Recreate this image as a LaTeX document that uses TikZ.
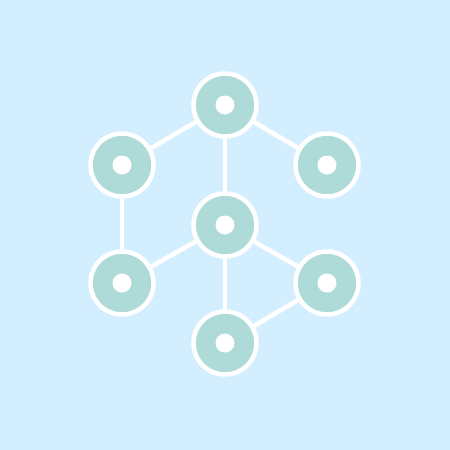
\documentclass[tikz,border=0pt]{standalone}
\definecolor{bg}{HTML}{D3EEFF}
\definecolor{teal}{HTML}{AEDBD7}
\tikzset{
  ring/.style={circle, draw=white, line width=4.5pt, fill=teal, minimum size=63pt, inner sep=0pt},
  link/.style={draw=white, line width=4.5pt},
  hole/.style={circle, fill=white, minimum size=19pt, inner sep=0pt}
}
\begin{document}
\begin{tikzpicture}[x=1pt,y=-1pt]
\fill[bg] (0,0) rectangle (450,450);
\useasboundingbox (0,0) rectangle (450,450);
\coordinate (t) at (225,105);
\coordinate (ul) at (122,165);
\coordinate (ur) at (327,165);
\coordinate (c) at (225,225);
\coordinate (ll) at (122,283);
\coordinate (lr) at (327,283);
\coordinate (b) at (225,343);
\draw[link] (t) -- (ul);
\draw[link] (t) -- (ur);
\draw[link] (t) -- (c);
\draw[link] (ul) -- (ll);
\draw[link] (c) -- (ll);
\draw[link] (c) -- (lr);
\draw[link] (c) -- (b);
\draw[link] (b) -- (lr);
\foreach \n in {t,ul,ur,c,ll,lr,b}{
  \node[ring] (r\n) at (\n) {};
  \node[hole] (h\n) at (\n) {};
}
\end{tikzpicture}
\end{document}
